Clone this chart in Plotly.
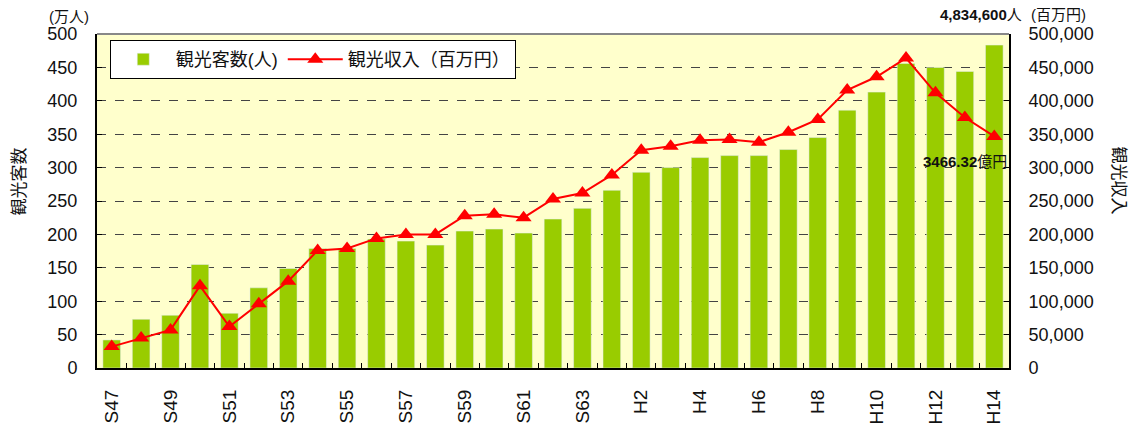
import plotly.graph_objects as go

# years (showa S47-S63, heisei H1-H14)
years = ["S%d" % y for y in range(47, 64)] + ["H%d" % y for y in range(1, 15)]

# visitors (10,000 people)
visitors = [42, 73, 79, 155, 82, 120, 149, 179, 179, 193,
            190, 184, 205, 208, 202, 223, 239, 266, 293, 300,
            315, 318, 318, 327, 345, 386, 413, 456, 450, 444, 483.46]

# tourism income (million yen)
income = [32000, 45000, 57000, 123000, 62000, 96000, 130000, 176000, 179000, 194000,
          200000, 200000, 228000, 230000, 225000, 253000, 262000, 289000, 326000, 332000,
          341000, 342000, 338000, 353000, 372000, 416000, 436000, 464000, 412000, 375000, 346632]

tick_text = [y if i % 2 == 0 else "" for i, y in enumerate(years)]

FONT = "Liberation Sans, Arial, Noto Sans CJK JP"

fig = go.Figure()
fig.add_trace(go.Bar(
    x=years, y=visitors, name="観光客数(人)",
    marker=dict(color="#99CC00"), width=0.6,
))
fig.add_trace(go.Scatter(
    x=years, y=income, name="観光収入（百万円）", yaxis="y2",
    mode="lines+markers",
    line=dict(color="#FF0000", width=2),
    marker=dict(symbol="triangle-up", size=14, color="#FF0000"),
))

fig.update_layout(
    width=1136, height=427,
    margin=dict(l=97, r=127, t=34, b=59),
    paper_bgcolor="white",
    plot_bgcolor="#FFFFCC",
    font=dict(family=FONT, size=18, color="#111"),
    showlegend=True,
    legend=dict(
        orientation="h", x=0.014, y=0.982, xanchor="left", yanchor="top",
        bgcolor="white", bordercolor="black", borderwidth=1,
        font=dict(size=18), itemwidth=55,
    ),
    xaxis=dict(
        type="category", range=[-0.5, len(years) - 0.5], automargin=False,
        tickmode="array", tickvals=years, ticktext=tick_text,
        tickson="boundaries", ticks="inside", ticklen=5, tickcolor="black",
        tickangle=-90, tickfont=dict(size=19),
        showline=True, linecolor="black", linewidth=2,
        showgrid=False, ticklabelstandoff=12,
    ),
    yaxis=dict(
        range=[0, 500], dtick=50, automargin=False,
        showline=True, linecolor="black", linewidth=2,
        ticks="inside", ticklen=5, tickcolor="black",
        showgrid=True, gridcolor="#444", griddash="dash", gridwidth=1,
        zeroline=False, ticklabelstandoff=14,
    ),
    yaxis2=dict(
        range=[0, 500000], dtick=50000, overlaying="y", side="right",
        tickformat=",d", automargin=False,
        showline=True, linecolor="black", linewidth=2,
        ticks="inside", ticklen=5, tickcolor="black",
        showgrid=False, zeroline=False, ticklabelstandoff=14,
    ),
)

# top border (grey)
fig.add_shape(type="line", xref="paper", yref="paper", x0=0, x1=1, y0=1, y1=1,
              line=dict(color="#888", width=2))

fig.add_annotation(text="(万人)", xref="paper", yref="paper", x=-0.031, y=1.02,
                   xanchor="center", yanchor="bottom", showarrow=False, font=dict(size=15))
fig.add_annotation(text="<b>4,834,600</b>人", xref="paper", yref="paper", x=1.016, y=1.028,
                   xanchor="right", yanchor="bottom", showarrow=False, font=dict(size=15))
fig.add_annotation(text="(百万円)", xref="paper", yref="paper", x=1.022, y=1.028,
                   xanchor="left", yanchor="bottom", showarrow=False, font=dict(size=15))
fig.add_annotation(text="<b>3466.32</b>億円", xref="paper", yref="paper", x=1.0, y=0.617,
                   xanchor="right", yanchor="middle", showarrow=False, font=dict(size=15))
fig.add_annotation(text="観光客数", xref="paper", yref="paper", x=-0.085, y=0.56,
                   textangle=-90, xanchor="center", yanchor="middle", showarrow=False,
                   font=dict(size=17))
fig.add_annotation(text="観光収入", xref="paper", yref="paper", x=1.12, y=0.56,
                   textangle=90, xanchor="center", yanchor="middle", showarrow=False,
                   font=dict(size=17))

fig.write_html("out.html", config={"displayModeBar": False},
               post_script="document.body.style.margin='0';")
